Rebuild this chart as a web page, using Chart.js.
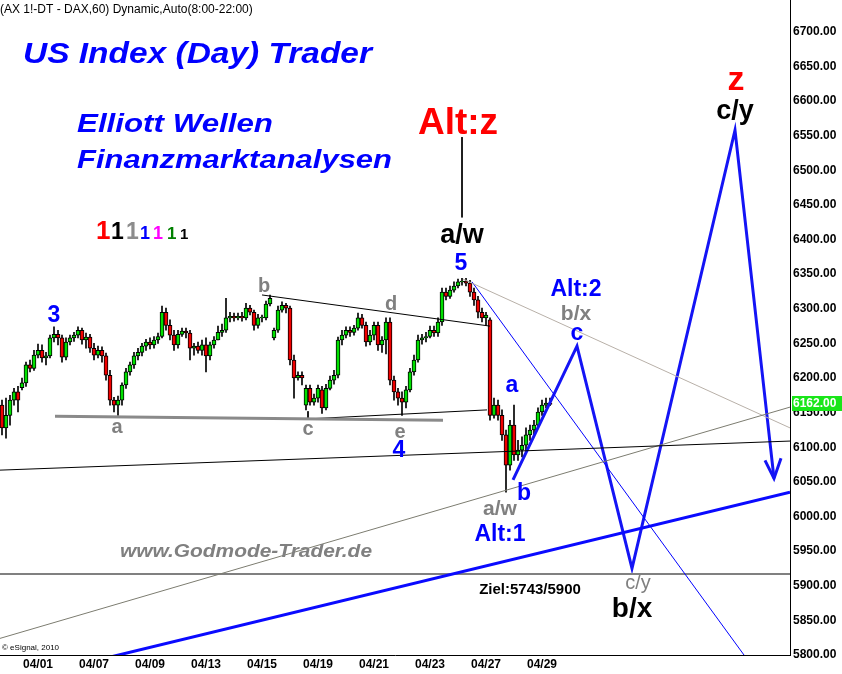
<!DOCTYPE html>
<html>
<head>
<meta charset="utf-8">
<script src="https://cdn.jsdelivr.net/npm/chart.js@4/dist/chart.umd.min.js"></script>
<style>
  html, body { margin: 0; padding: 0; background: #fff; }
  canvas { display: block; }
</style>
</head>
<body>
<canvas id="chart" width="842" height="674"></canvas>
<script>
'use strict'

// FDAX 60 min candles (one entry per bar)
const opens = [
  6161, 6128, 6146, 6168, 6180, 6186, 6193, 6219, 6214, 6233,
  6240, 6229, 6232, 6258, 6263, 6258, 6230, 6252, 6258, 6262,
  6269, 6255, 6259, 6243, 6233, 6240, 6232, 6204, 6168, 6161,
  6168, 6190, 6209, 6219, 6232, 6237, 6246, 6252, 6248, 6255,
  6260, 6295, 6276, 6262, 6248, 6263, 6268, 6265, 6243, 6246,
  6240, 6248, 6232, 6248, 6255, 6266, 6269, 6287, 6289, 6287,
  6289, 6287, 6301, 6295, 6276, 6287, 6287, 6307, 6258, 6269,
  6298, 6305, 6301, 6226, 6200, 6204, 6161, 6185, 6165, 6171,
  6183, 6157, 6185, 6197, 6204, 6255, 6262, 6269, 6266, 6272,
  6287, 6276, 6252, 6262, 6276, 6248, 6255, 6281, 6197, 6180,
  6171, 6165, 6183, 6209, 6226, 6255, 6258, 6260, 6269, 6265,
  6281, 6324, 6318, 6327, 6333, 6339, 6340, 6337, 6324, 6313,
  6295, 6287, 6284, 6146, 6161, 6146, 6118, 6074, 6132, 6089,
  6096, 6103, 6118, 6125, 6132, 6151, 6161, 6164
]
const highs = [
  6168, 6171, 6175, 6185, 6188, 6200, 6223, 6226, 6240, 6249,
  6248, 6237, 6262, 6274, 6269, 6262, 6258, 6262, 6266, 6274,
  6272, 6265, 6263, 6250, 6246, 6245, 6236, 6211, 6172, 6174,
  6193, 6214, 6223, 6237, 6243, 6250, 6256, 6258, 6260, 6265,
  6304, 6301, 6284, 6269, 6269, 6272, 6272, 6269, 6250, 6252,
  6255, 6258, 6252, 6260, 6275, 6278, 6315, 6295, 6294, 6294,
  6295, 6308, 6305, 6298, 6292, 6291, 6311, 6320, 6272, 6304,
  6310, 6308, 6304, 6233, 6209, 6209, 6190, 6190, 6177, 6190,
  6188, 6191, 6203, 6211, 6259, 6269, 6274, 6274, 6276, 6294,
  6292, 6281, 6269, 6281, 6281, 6260, 6287, 6287, 6203, 6185,
  6180, 6188, 6214, 6233, 6262, 6263, 6266, 6275, 6275, 6287,
  6330, 6330, 6333, 6339, 6343, 6344, 6344, 6341, 6330, 6318,
  6301, 6295, 6287, 6171, 6168, 6154, 6125, 6139, 6161, 6110,
  6115, 6128, 6132, 6139, 6157, 6168, 6171, 6171
]
const lows = [
  6118, 6113, 6132, 6161, 6151, 6183, 6188, 6209, 6211, 6229,
  6223, 6219, 6229, 6252, 6248, 6223, 6226, 6248, 6253, 6258,
  6249, 6243, 6237, 6226, 6229, 6223, 6197, 6161, 6151, 6146,
  6161, 6185, 6204, 6214, 6226, 6232, 6240, 6242, 6243, 6250,
  6258, 6269, 6255, 6240, 6243, 6260, 6258, 6226, 6233, 6236,
  6233, 6209, 6226, 6243, 6255, 6260, 6266, 6281, 6282, 6284,
  6282, 6284, 6291, 6269, 6272, 6281, 6284, 6304, 6255, 6266,
  6295, 6294, 6219, 6171, 6197, 6190, 6154, 6161, 6161, 6165,
  6149, 6154, 6183, 6191, 6200, 6248, 6258, 6260, 6262, 6269,
  6272, 6246, 6248, 6255, 6240, 6237, 6235, 6190, 6168, 6161,
  6146, 6157, 6180, 6204, 6223, 6249, 6252, 6258, 6260, 6260,
  6276, 6313, 6315, 6324, 6330, 6334, 6333, 6318, 6305, 6287,
  6281, 6276, 6139, 6142, 6139, 6110, 6035, 6067, 6081, 6081,
  6086, 6096, 6110, 6116, 6128, 6146, 6157, 6160
]
const closes = [
  6128, 6146, 6168, 6180, 6168, 6193, 6219, 6214, 6233, 6240,
  6229, 6232, 6258, 6263, 6258, 6230, 6252, 6258, 6262, 6269,
  6255, 6259, 6243, 6233, 6240, 6232, 6204, 6168, 6161, 6168,
  6190, 6209, 6219, 6232, 6237, 6246, 6252, 6248, 6255, 6260,
  6295, 6276, 6262, 6248, 6263, 6268, 6265, 6243, 6246, 6240,
  6248, 6232, 6248, 6255, 6266, 6269, 6287, 6289, 6287, 6289,
  6287, 6301, 6295, 6276, 6287, 6288, 6307, 6315, 6269, 6298,
  6305, 6301, 6226, 6200, 6204, 6200, 6185, 6165, 6171, 6185,
  6157, 6185, 6197, 6204, 6255, 6262, 6269, 6266, 6272, 6287,
  6276, 6252, 6262, 6276, 6248, 6255, 6281, 6197, 6180, 6171,
  6165, 6183, 6209, 6226, 6255, 6258, 6260, 6269, 6265, 6281,
  6324, 6318, 6327, 6333, 6339, 6340, 6337, 6324, 6313, 6295,
  6287, 6291, 6146, 6161, 6146, 6118, 6074, 6132, 6089, 6096,
  6103, 6118, 6125, 6132, 6151, 6161, 6164, 6162
]

// bar index that carries each date label
const tickCandles = [9, 23, 37, 51, 65, 79, 93, 107, 121, 135]
const tickLabels = ['04/01', '04/07', '04/09', '04/13', '04/15', '04/19', '04/21', '04/23', '04/27', '04/29']
const lastPrice = 6162

// drawn trend lines and the forecast path, in [bar, price]
const trendLines = [
  { pts: [[13.75, 6145], [110.75, 6139]], color: '#8a8a8a', width: 3 },
  { pts: [[77, 6141], [121.75, 6154]], color: '#000000', width: 1 },
  { pts: [[77, 6152], [77, 6141]], color: '#000000', width: 1 },
  { pts: [[65.5, 6320], [122.5, 6275]], color: '#000000', width: 1 },
  { pts: [[0, 6067], [197.5, 6109]], color: '#000000', width: 1 },
  { pts: [[0, 5824], [197.5, 6158]], color: '#7c7c70', width: 1 },
  { pts: [[115.75, 6343], [197.5, 6128]], color: '#b8b0a8', width: 1 },
  { pts: [[118, 6339], [186, 5800]], color: '#0000ff', width: 1 },
  { pts: [[27.5, 5797], [197.5, 6035]], color: '#0a0aff', width: 3 },
  { pts: [[0, 5917], [197.5, 5917]], color: '#808080', width: 2 },
  { pts: [[115.5, 6548], [115.5, 6432]], color: '#000000', width: 1 }
]
const forecastPath = [[128.25, 6053], [144.25, 6246], [158, 5925], [183.75, 6558], [193.5, 6055]]
const forecastArrow = [[191.25, 6081], [193.5, 6055], [195.25, 6084]]

const FONT = "'Liberation Sans', Arial, sans-serif"
const BLUE = '#0000ff'
const GRAY = '#808080'

const waveLabels = [
  { text: '3', x: 13.5, y: 6281, size: 23, bold: true, color: BLUE },
  { text: 'b', x: 66, y: 6324, size: 20, bold: true, color: GRAY },
  { text: 'd', x: 97.75, y: 6298, size: 20, bold: true, color: GRAY },
  { text: 'a', x: 29.25, y: 6120, size: 20, bold: true, color: GRAY },
  { text: 'c', x: 77, y: 6118, size: 20, bold: true, color: GRAY },
  { text: 'e', x: 100, y: 6113, size: 20, bold: true, color: GRAY },
  { text: '4', x: 99.75, y: 6086, size: 23, bold: true, color: BLUE },
  { text: '5', x: 115.25, y: 6356, size: 23, bold: true, color: BLUE },
  { text: 'a/w', x: 115.5, y: 6395, size: 27, bold: true, color: '#000' },
  { text: 'Alt:z', x: 114.5, y: 6552, size: 37, bold: true, color: '#ff0000' },
  { text: 'a', x: 128, y: 6180, size: 23, bold: true, color: BLUE },
  { text: 'b', x: 131, y: 6024, size: 23, bold: true, color: BLUE },
  { text: 'a/w', x: 125, y: 6002, size: 21, bold: true, color: GRAY },
  { text: 'Alt:1', x: 125, y: 5964, size: 23, bold: true, color: BLUE },
  { text: 'Alt:2', x: 144, y: 6318, size: 23, bold: true, color: BLUE },
  { text: 'b/x', x: 144, y: 6284, size: 21, bold: true, color: GRAY },
  { text: 'c', x: 144.25, y: 6255, size: 23, bold: true, color: BLUE },
  { text: 'z', x: 184, y: 6616, size: 34, bold: true, color: '#ff0000' },
  { text: 'c/y', x: 183.75, y: 6574, size: 27, bold: true, color: '#000' },
  { text: 'c/y', x: 159.5, y: 5896, size: 20, bold: false, color: GRAY },
  { text: 'b/x', x: 158, y: 5855, size: 28, bold: true, color: '#000' },
  { text: 'Ziel:5743/5900', x: 132.5, y: 5888, size: 15, bold: true, color: '#000' }
]

const lineDataset = (pts, color, width) => ({
  type: 'line',
  data: pts.map(([x, y]) => ({ x, y })),
  borderColor: color,
  borderWidth: width,
  pointRadius: 0,
  fill: false,
  tension: 0,
  order: 0
})

// fits a headline to a measured width, like the original bitmap text
function drawFitted (ctx, text, x, baseline, font, color, width) {
  ctx.save()
  ctx.font = font
  ctx.fillStyle = color
  ctx.textAlign = 'left'
  ctx.textBaseline = 'alphabetic'
  const w = ctx.measureText(text).width
  ctx.translate(x, baseline)
  ctx.scale(width / w, 1)
  ctx.fillText(text, 0, 0)
  ctx.restore()
}

const textPlugin = {
  id: 'elliottText',
  afterDatasetsDraw (chart) {
    const { ctx, scales: { x, y } } = chart
    ctx.save()
    ctx.textAlign = 'center'
    ctx.textBaseline = 'alphabetic'
    waveLabels.forEach((l) => {
      ctx.font = `${l.bold ? 'bold ' : ''}${l.size}px ${FONT}`
      ctx.fillStyle = l.color
      ctx.fillText(l.text, x.getPixelForValue(l.x), y.getPixelForValue(l.y))
    })
    ctx.restore()

    ctx.save()
    ctx.font = `12px ${FONT}`
    ctx.fillStyle = '#000'
    ctx.textBaseline = 'alphabetic'
    ctx.fillText('(AX 1!-DT - DAX,60) Dynamic,Auto(8:00-22:00)', 0, 13)
    ctx.restore()

    drawFitted(ctx, 'US Index (Day) Trader', 23, 63, `italic bold 30px ${FONT}`, BLUE, 349)
    drawFitted(ctx, 'Elliott Wellen', 77, 132, `italic bold 26px ${FONT}`, BLUE, 196)
    drawFitted(ctx, 'Finanzmarktanalysen', 77, 168, `italic bold 26px ${FONT}`, BLUE, 315)
    drawFitted(ctx, 'www.Godmode-Trader.de', 120, 557, `italic bold 18px ${FONT}`, GRAY, 252)

    const ones = [
      ['#ff0000', 26, 96], ['#000000', 23, 111], ['#8c8c8c', 23, 126], ['#0000ff', 18, 140],
      ['#ff00ff', 18, 153], ['#008000', 17, 167], ['#000000', 15, 180]
    ]
    ctx.save()
    ones.forEach(([c, s, px]) => {
      ctx.font = `bold ${s}px ${FONT}`
      ctx.fillStyle = c
      ctx.fillText('1', px, 239)
    })
    ctx.font = `8px ${FONT}`
    ctx.fillStyle = '#000'
    ctx.fillText('© eSignal, 2010', 2, 650)
    ctx.restore()
  },
  afterDraw (chart) {
    const { ctx, scales: { y }, chartArea } = chart
    const py = Math.round(y.getPixelForValue(lastPrice))
    ctx.save()
    ctx.fillStyle = '#19e619'
    ctx.fillRect(chartArea.right + 2, py - 8, 51, 15)
    ctx.font = `bold 12px ${FONT}`
    ctx.fillStyle = '#fff'
    ctx.textBaseline = 'middle'
    ctx.fillText(lastPrice.toFixed(2), chartArea.right + 3, py)
    ctx.restore()
  }
}

const barColors = closes.map((c, i) => (c >= opens[i] ? '#00e000' : '#f00000'))

new Chart(document.getElementById('chart').getContext('2d'), {
  type: 'bar',
  data: {
    datasets: [
      {
        data: highs.map((h, i) => ({ x: i + 0.5, y: [lows[i], h] })),
        backgroundColor: '#000',
        barThickness: 1,
        grouped: false,
        order: 11
      },
      {
        data: opens.map((o, i) => ({ x: i + 0.5, y: [o, closes[i]] })),
        backgroundColor: barColors,
        borderColor: '#000',
        borderWidth: 1,
        borderSkipped: false,
        barThickness: 4,
        grouped: false,
        order: 10
      },
      ...trendLines.map((l) => lineDataset(l.pts, l.color, l.width)),
      lineDataset(forecastPath, '#1414f5', 3),
      lineDataset(forecastArrow, '#1414f5', 3)
    ]
  },
  options: {
    responsive: false,
    animation: false,
    layout: { padding: 0 },
    plugins: {
      legend: { display: false },
      tooltip: { enabled: false }
    },
    scales: {
      x: {
        type: 'linear',
        min: 0,
        max: 197.5,
        offset: false,
        grid: { display: false, drawTicks: false },
        border: { display: true, color: '#000', width: 1 },
        ticks: {
          autoSkip: false,
          maxRotation: 0,
          minRotation: 0,
          padding: 2,
          color: '#000',
          font: { family: FONT, size: 12, weight: 'bold' },
          callback: (v, i) => tickLabels[i]
        },
        afterBuildTicks: (s) => { s.ticks = tickCandles.map((i) => ({ value: i + 0.5 })) },
        afterFit: (s) => { s.height = 19; s.paddingLeft = 0; s.paddingRight = 0 }
      },
      y: {
        position: 'right',
        min: 5800,
        max: 6746,
        grid: { display: false, drawTicks: false },
        border: { display: true, color: '#000', width: 1 },
        ticks: {
          stepSize: 50,
          includeBounds: false,
          padding: 3,
          crossAlign: 'near',
          color: '#000',
          font: { family: FONT, size: 12, weight: 'bold' },
          callback: (v) => Number(v).toFixed(2)
        },
        afterFit: (s) => { s.width = 52; s.paddingTop = 0; s.paddingBottom = 0 }
      }
    }
  },
  plugins: [textPlugin]
})
</script>
</body>
</html>
